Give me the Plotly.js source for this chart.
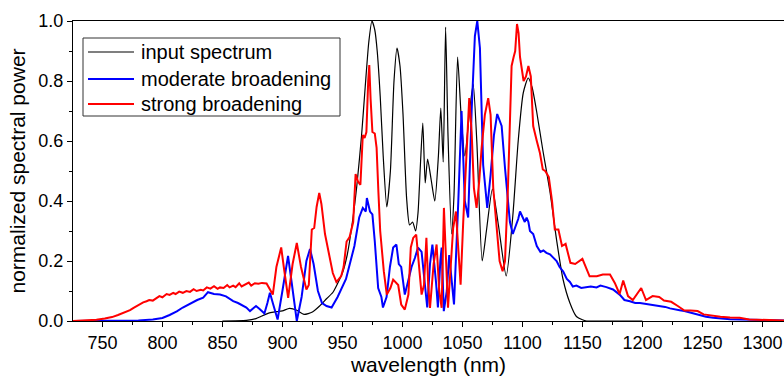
<!DOCTYPE html>
<html>
<head>
<meta charset="utf-8">
<script src="https://cdn.plot.ly/plotly-3.0.1.min.js"></script>
<style>html,body{margin:0;padding:0;background:#fff;}#chart{width:784px;height:376px;}</style>
</head>
<body>
<div id="chart"></div>
<script>
// ---- data ----
const seriesNames = ["input spectrum", "moderate broadening", "strong broadening"];

const inputX = [850, 870, 878, 882, 886, 890, 895, 900, 906, 912, 918, 925, 931, 937, 942, 946, 950, 954, 958, 962, 966, 969, 972, 974.6, 977, 979, 981.5, 984, 987, 990, 993, 995.5, 998, 1000.5, 1003.5, 1006, 1008.5, 1011, 1013, 1015, 1017, 1019, 1021, 1024, 1027, 1030, 1032, 1034, 1036, 1038, 1041, 1043, 1046, 1049, 1052, 1056, 1059, 1062, 1066.5, 1070, 1075, 1080, 1086.5, 1092, 1096.5, 1100.7, 1104.8, 1108, 1111.8, 1117, 1123, 1128.5, 1133.8, 1139.6, 1145, 1150, 1153.5, 1160, 1200];
const inputY = [0, 0.002, 0.008, 0.015, 0.022, 0.028, 0.031, 0.034, 0.042, 0.036, 0.022, 0.03, 0.05, 0.075, 0.095, 0.125, 0.16, 0.22, 0.32, 0.45, 0.62, 0.78, 0.93, 1.0, 0.97, 0.9, 0.75, 0.55, 0.38, 0.5, 0.8, 0.91, 0.85, 0.69, 0.41, 0.32, 0.33, 0.3, 0.36, 0.52, 0.66, 0.46, 0.54, 0.47, 0.4, 0.55, 0.71, 0.53, 0.98, 0.62, 0.29, 0.42, 0.88, 0.68, 0.55, 0.7, 0.79, 0.6, 0.2, 0.3, 0.44, 0.32, 0.15, 0.35, 0.6, 0.76, 0.81, 0.78, 0.7, 0.57, 0.43, 0.27, 0.14, 0.06, 0.015, 0.004, 0, 0, 0];

const moderateX = [725, 765, 780, 792, 800, 806, 812, 817, 823, 829, 834, 838, 843, 848, 853, 859, 863, 867, 870, 873, 876, 878, 881, 885, 887.5, 889.6, 892, 896, 900, 904.7, 908, 912, 916, 920, 923, 926, 929.6, 933, 936.8, 941, 946, 953, 960, 964, 967, 969.5, 970.4, 973, 975, 977, 979.8, 982.5, 983.8, 986.8, 989.6, 992.3, 995, 997, 999, 1002, 1004.6, 1007.6, 1010.4, 1013, 1016, 1018.8, 1020.7, 1023, 1025, 1028, 1029.6, 1031.6, 1032.7, 1034.5, 1037, 1039, 1041, 1043, 1046.6, 1049.3, 1052, 1054.8, 1057.7, 1060.4, 1062.4, 1064.6, 1067.3, 1070.7, 1073.5, 1076.3, 1079, 1080.7, 1082.7, 1085.5, 1088, 1089.6, 1092, 1095, 1096.5, 1098, 1099.5, 1100.7, 1102, 1103.5, 1105, 1106.3, 1109, 1112, 1115, 1117.5, 1120, 1123, 1126, 1128.5, 1131, 1134, 1137, 1139.6, 1142, 1145, 1149, 1153.5, 1157, 1161.8, 1165, 1170, 1175.5, 1181, 1185, 1189.6, 1194, 1198, 1202, 1206, 1210, 1214.6, 1219, 1223, 1227, 1231, 1235, 1239.6, 1244, 1248, 1253, 1259, 1265, 1273, 1282, 1292, 1305, 1318];
const moderateY = [0, 0.0, 0.002, 0.005, 0.01, 0.02, 0.032, 0.045, 0.058, 0.07, 0.078, 0.096, 0.09, 0.088, 0.082, 0.066, 0.06, 0.05, 0.045, 0.033, 0.045, 0.05, 0.04, 0.025, 0.06, 0.094, 0.06, 0.005, 0.1, 0.217, 0.12, 0.0, 0.08, 0.2, 0.24, 0.19, 0.1, 0.06, 0.05, 0.045, 0.08, 0.14, 0.25, 0.345, 0.377, 0.365, 0.41, 0.365, 0.355, 0.265, 0.11, 0.08, 0.045, 0.08, 0.18, 0.245, 0.255, 0.19, 0.18, 0.088, 0.13, 0.18, 0.21, 0.245, 0.23, 0.13, 0.045, 0.19, 0.255, 0.13, 0.045, 0.2, 0.245, 0.033, 0.1, 0.22, 0.13, 0.055, 0.4, 0.7, 0.4, 0.345, 0.7, 0.95, 1.0, 0.91, 0.52, 0.377, 0.487, 0.62, 0.69, 0.67, 0.65, 0.51, 0.39, 0.33, 0.29, 0.32, 0.34, 0.365, 0.35, 0.34, 0.33, 0.345, 0.33, 0.3, 0.29, 0.25, 0.23, 0.235, 0.227, 0.222, 0.21, 0.2, 0.18, 0.165, 0.14, 0.13, 0.115, 0.118, 0.11, 0.112, 0.115, 0.112, 0.118, 0.113, 0.105, 0.088, 0.07, 0.066, 0.06, 0.06, 0.058, 0.055, 0.052, 0.05, 0.047, 0.042, 0.038, 0.036, 0.033, 0.028, 0.022, 0.017, 0.014, 0.011, 0.008, 0.006, 0.005, 0.004, 0.003, 0.002, 0.002];

const strongX = [725, 735, 745, 752, 758, 763, 767, 770, 773, 776, 778.5, 781, 784, 786.8, 789, 792, 795, 797.5, 800, 803.5, 806, 809, 811, 814, 817, 820, 823, 826, 828.5, 832, 834, 837, 840, 843, 846, 848, 851, 854, 856, 859, 861, 864, 866, 869, 872, 874, 877, 880, 883, 886.8, 889.6, 892, 895, 899, 901.5, 904.8, 908.5, 912, 915.5, 920, 922, 924.5, 926.5, 928.5, 930.7, 932.5, 935.5, 939.5, 942, 945, 949, 951, 953.5, 956, 959, 961, 963, 965, 967, 968.5, 970, 971.5, 972.4, 973.5, 975, 977, 978.5, 980, 981.5, 984.5, 987, 990, 992.3, 996.5, 999, 1002, 1005, 1007, 1009, 1011.5, 1013.5, 1016, 1018, 1020, 1021.5, 1023, 1026, 1028.5, 1030.7, 1032.7, 1034.6, 1036.3, 1038, 1040, 1042.3, 1044.6, 1046.5, 1048.5, 1050.7, 1053.5, 1055.7, 1057.7, 1059.6, 1061.8, 1064, 1066, 1068.7, 1071.5, 1073.5, 1075.7, 1078.5, 1081, 1083.5, 1085.5, 1088, 1089.7, 1091, 1092.7, 1094, 1095.5, 1096.8, 1098, 1099.7, 1101, 1103, 1105, 1107, 1109, 1112, 1114.6, 1117, 1119, 1122, 1124.7, 1127, 1130, 1133, 1136, 1140, 1144, 1150, 1156, 1162, 1167, 1173, 1177, 1181, 1184, 1188, 1192, 1199, 1203, 1208.5, 1214, 1218, 1224, 1229.5, 1235, 1240, 1246, 1251, 1258, 1265, 1273, 1281, 1289, 1300, 1318];
const strongY = [0, 0.001, 0.004, 0.008, 0.013, 0.02, 0.026, 0.031, 0.036, 0.044, 0.05, 0.055, 0.062, 0.066, 0.07, 0.068, 0.077, 0.083, 0.079, 0.09, 0.087, 0.094, 0.09, 0.098, 0.094, 0.1, 0.097, 0.106, 0.1, 0.104, 0.102, 0.112, 0.108, 0.116, 0.107, 0.112, 0.11, 0.12, 0.112, 0.118, 0.113, 0.126, 0.115, 0.123, 0.128, 0.118, 0.126, 0.124, 0.127, 0.125, 0.105, 0.088, 0.18, 0.245, 0.17, 0.077, 0.19, 0.26, 0.18, 0.105, 0.12, 0.305, 0.31, 0.38, 0.427, 0.39, 0.29, 0.205, 0.16, 0.13, 0.15, 0.18, 0.265, 0.28, 0.33, 0.49, 0.465, 0.454, 0.62, 0.61, 0.63, 0.8, 0.853, 0.74, 0.63, 0.625, 0.577, 0.43, 0.3, 0.166, 0.088, 0.11, 0.138, 0.12, 0.055, 0.038, 0.088, 0.245, 0.277, 0.288, 0.19, 0.088, 0.12, 0.277, 0.12, 0.044, 0.19, 0.255, 0.1, 0.044, 0.377, 0.22, 0.044, 0.166, 0.31, 0.365, 0.245, 0.121, 0.332, 0.554, 0.743, 0.63, 0.443, 0.377, 0.465, 0.576, 0.687, 0.743, 0.687, 0.443, 0.3, 0.2, 0.166, 0.2, 0.45, 0.68, 0.85, 0.88, 0.9, 0.99, 0.96, 0.88, 0.837, 0.8, 0.815, 0.85, 0.815, 0.65, 0.6, 0.56, 0.505, 0.5, 0.48, 0.4, 0.305, 0.305, 0.25, 0.257, 0.194, 0.19, 0.207, 0.149, 0.149, 0.155, 0.155, 0.127, 0.09, 0.135, 0.083, 0.07, 0.11, 0.07, 0.083, 0.08, 0.068, 0.064, 0.05, 0.035, 0.035, 0.033, 0.022, 0.018, 0.014, 0.012, 0.011, 0.005, 0.003, 0.002];

const seriesColors = ["#000000", "#0000ff", "#ff0000"];
const seriesWidths = [1.2, 2, 2];
const xTickStep = 50;
const yTickStep = 0.2;

const font = "Arial, 'Liberation Sans', sans-serif";

const traces = [
  {x: inputX, y: inputY, name: seriesNames[0], type: "scatter", mode: "lines",
   line: {color: seriesColors[0], width: seriesWidths[0], shape: "spline", smoothing: 0.6}},
  {x: moderateX, y: moderateY, name: seriesNames[1], type: "scatter", mode: "lines",
   line: {color: seriesColors[1], width: seriesWidths[1]}},
  {x: strongX, y: strongY, name: seriesNames[2], type: "scatter", mode: "lines",
   line: {color: seriesColors[2], width: seriesWidths[2]}}
];

// custom legend box (paper coordinates)
const plotW = 711, plotH = 300, plotL = 73, plotT = 21;
const px = v => (v - plotL) / plotW;
const py = v => (plotT + plotH - v) / plotH;
const legendRows = [52, 79, 104];
const shapes = [
  {type: "rect", xref: "paper", yref: "paper", x0: px(83), x1: px(340), y0: py(116), y1: py(38),
   line: {color: "#333333", width: 1}, fillcolor: "#ffffff", layer: "above"}
];
const annotations = [];
seriesNames.forEach((n, i) => {
  shapes.push({type: "line", xref: "paper", yref: "paper", x0: px(88), x1: px(134),
    y0: py(legendRows[i]), y1: py(legendRows[i]), line: {color: seriesColors[i], width: seriesWidths[i]}, layer: "above"});
  annotations.push({xref: "paper", yref: "paper", x: px(139), y: py(legendRows[i]), xanchor: "left", yanchor: "middle",
    text: n, showarrow: false, font: {family: font, size: 20, color: "#000"}});
});

const layout = {
  width: 784, height: 376,
  margin: {l: 73, r: 0, t: 21, b: 55},
  paper_bgcolor: "#ffffff", plot_bgcolor: "#ffffff",
  font: {family: font, size: 18, color: "#000"},
  showlegend: false,
  shapes: shapes,
  annotations: annotations,
  xaxis: {
    range: [725.5, 1318], dtick: xTickStep, tick0: 750,
    showgrid: false, zeroline: false,
    showline: true, linecolor: "#000", linewidth: 1, mirror: true,
    ticks: "outside", ticklen: 5, tickcolor: "#000",
    minor: {dtick: 25, ticks: "outside", ticklen: 3, tickcolor: "#000"},
    tickfont: {family: font, size: 18},
    title: {text: "wavelength (nm)", font: {family: font, size: 21}, standoff: 1}
  },
  yaxis: {
    range: [0, 1], dtick: yTickStep, tickformat: ".1f",
    showgrid: false, zeroline: false,
    showline: true, linecolor: "#000", linewidth: 1,
    ticks: "outside", ticklen: 5, tickcolor: "#000",
    minor: {dtick: 0.1, ticks: "outside", ticklen: 3, tickcolor: "#000"},
    tickfont: {family: font, size: 18},
    title: {text: "normalized spectral power", font: {family: font, size: 21}, standoff: 7}
  }
};

Plotly.newPlot("chart", traces, layout, {displayModeBar: false, staticPlot: true});
</script>
</body>
</html>
